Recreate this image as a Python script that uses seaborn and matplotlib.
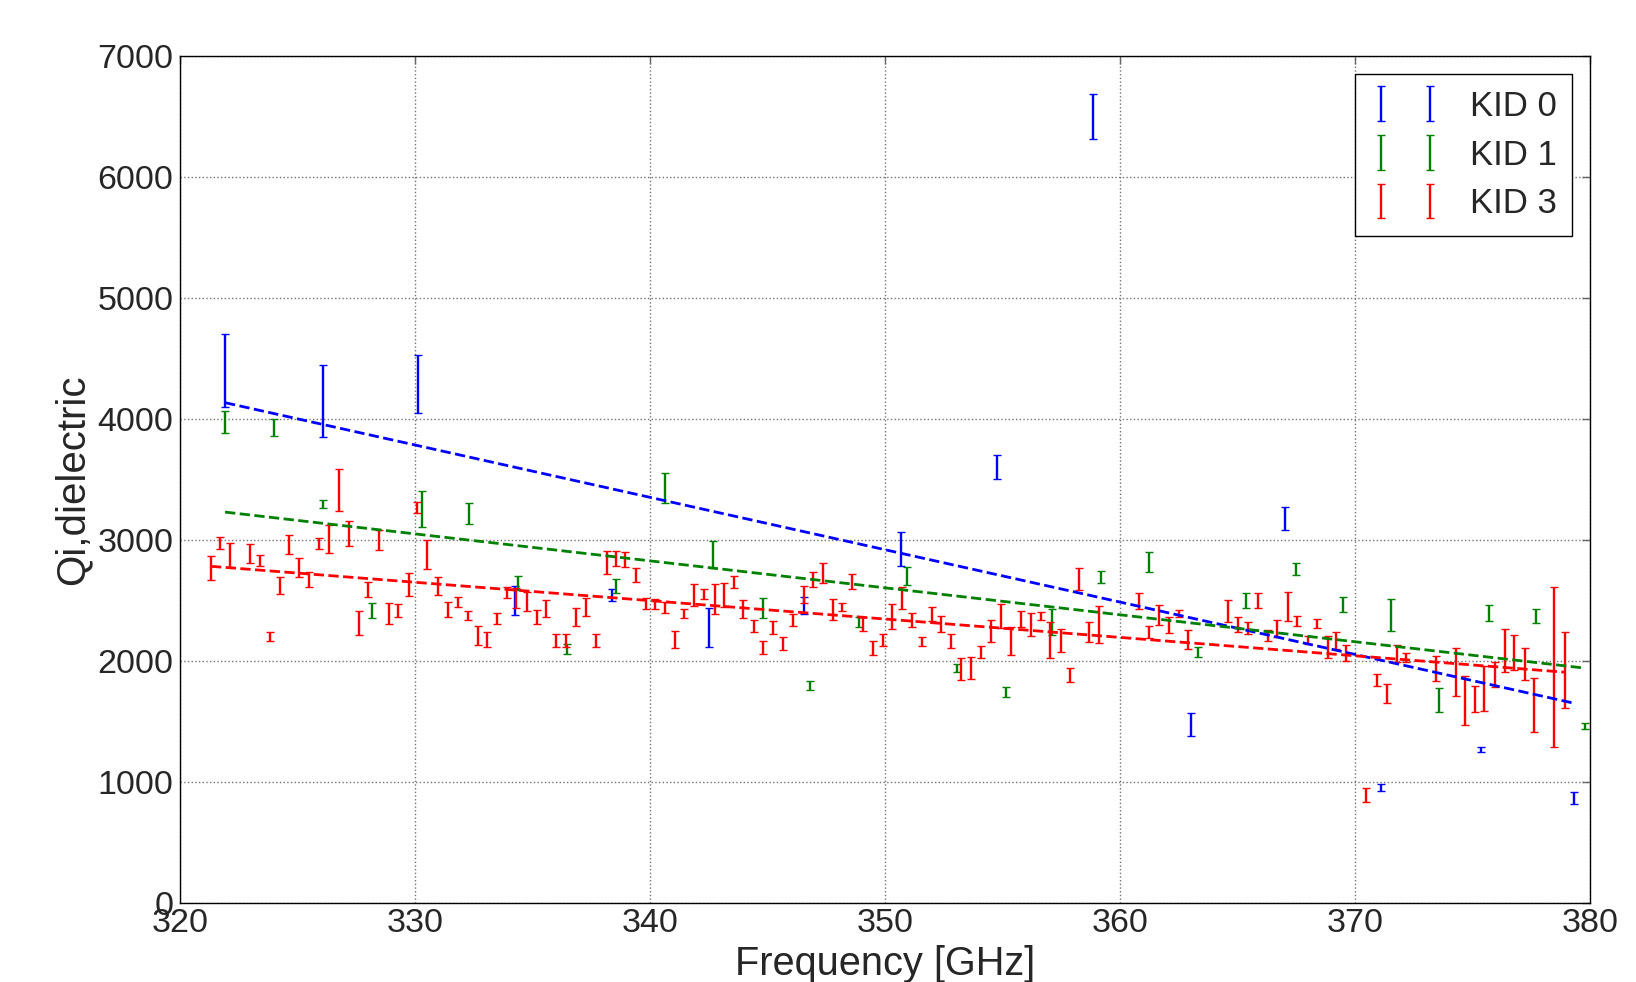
import numpy as np
import pandas as pd
import matplotlib
matplotlib.use('Agg')
import matplotlib.pyplot as plt
import seaborn as sns

sns.set_theme(style='white')
plt.rcParams['font.family'] = ['Liberation Sans', 'DejaVu Sans']

# KID 0
f0 = [321.9, 326.05, 330.1, 334.25, 338.37, 342.49, 346.53, 350.67, 354.75, 358.85,
      363.02, 367.02, 371.09, 375.36, 379.32]
q0 = [4400, 4150, 4290, 2500, 2545, 2275, 2460, 2927, 3604, 6500,
      1470, 3180, 951, 1267, 865]
e0 = [300, 300, 240, 120, 50, 160, 70, 140, 100, 185, 95, 95, 30, 22, 52]

# KID 1
f1 = [321.9, 324.0, 326.05, 328.17, 330.27, 332.3, 334.35, 336.44, 338.54, 340.63,
      342.68, 344.81, 346.78, 348.9, 350.92, 353.04, 355.13, 357.11, 359.19, 361.23,
      363.3, 365.35, 367.48, 369.5, 371.52, 373.58, 375.68, 377.7, 379.79]
q1 = [3975, 3930, 3295, 2417, 3255, 3216, 2644, 2100, 2615, 3431,
      2877, 2436, 1795, 2322, 2700, 1940, 1743, 2320, 2693, 2819,
      2075, 2498, 2757, 2462, 2377, 1675, 2397, 2370, 1460]
e1 = [90, 70, 35, 60, 150, 85, 60, 40, 58, 124, 113, 85, 35, 42, 72, 33, 42, 106, 48, 83,
      42, 65, 48, 62, 131, 97, 66, 60, 27]

# KID 3
f3 = [321.3, 321.68, 322.1, 322.96, 323.38, 323.8, 324.24, 324.63, 325.06, 325.47,
      325.91, 326.33, 326.76, 327.17, 327.6, 327.99, 328.45, 328.88, 329.27, 329.73, 330.08,
      330.5, 330.95, 331.38, 331.8, 332.23, 332.65, 333.04, 333.46, 333.89, 334.28,
      334.74, 335.16, 335.55, 335.97, 336.4, 336.82, 337.25, 337.67, 338.14, 338.53,
      338.92, 339.38, 339.8,
      340.2, 340.63, 341.05, 341.45, 341.87, 342.3, 342.75, 343.15, 343.58, 343.96,
      344.39, 344.81, 345.24, 345.66, 346.09, 346.52, 346.92, 347.34, 347.77, 348.17,
      348.6, 349.04, 349.47,
      349.88, 350.3, 350.73, 351.15, 351.55, 351.98, 352.36, 352.79, 353.21, 353.64,
      354.08, 354.5, 354.93, 355.34, 355.77, 356.19, 356.62, 357.02, 357.47, 357.87,
      358.26, 358.69, 359.11,
      360.81, 361.23, 361.66, 362.08, 362.51, 362.9, 364.58, 364.99, 365.43, 365.86,
      366.28, 366.69, 367.12, 367.54, 367.97, 368.39, 368.82, 369.2,
      369.6, 370.47, 370.92, 371.35, 371.78, 372.17, 373.45, 374.29, 374.68, 375.08,
      375.49, 375.93, 376.36, 376.77, 377.21, 377.62, 378.47, 378.91]
q3 = [2768, 2976, 2878, 2885, 2829, 2201, 2620, 2960, 2770, 2671,
      2969, 3008, 3410, 3053, 2312, 2589, 2998, 2392, 2414, 2633, 3267,
      2878, 2617, 2426, 2486, 2374, 2208, 2175, 2346, 2564, 2516,
      2490, 2361, 2430, 2167, 2167, 2360, 2443, 2167, 2812, 2846,
      2837, 2706, 2474,
      2469, 2440, 2178, 2388, 2542, 2550, 2508, 2543, 2651, 2427,
      2285, 2108, 2275, 2143, 2335, 2550, 2672, 2728, 2422, 2444,
      2655, 2306, 2105,
      2172, 2363, 2518, 2336, 2157, 2389, 2302, 2163, 1930, 1941,
      2072, 2244, 2367, 2164, 2347, 2300, 2368, 2171, 2165, 1879,
      2675, 2238, 2300,
      2491, 2237, 2378, 2293, 2392, 2174, 2412, 2300, 2270, 2498,
      2208, 2265, 2447, 2328, 2170, 2306, 2115, 2167,
      2065, 887, 1842, 1727, 2061, 2024, 1935, 1905, 1671, 1683,
      1773, 1889, 2085, 2068, 1971, 1631, 1948, 1921]
e3 = [100, 50, 100, 80, 46, 38, 70, 80, 76, 60,
      43, 115, 172, 102, 100, 65, 83, 88, 55, 95, 48,
      120, 73, 62, 44, 37, 79, 65, 45, 48, 83,
      76, 58, 72, 51, 51, 73, 73, 51, 95, 60,
      60, 58, 47,
      41, 48, 70, 37, 90, 41, 124, 97, 52, 76,
      51, 55, 54, 55, 48, 70, 65, 83, 86, 30,
      62, 58, 58,
      48, 103, 93, 60, 36, 58, 67, 55, 90, 92,
      52, 92, 100, 117, 66, 93, 32, 151, 95, 58,
      90, 85, 155,
      66, 52, 83, 66, 28, 80, 90, 65, 52, 65,
      46, 72, 119, 41, 35, 39, 90, 73,
      65, 58, 48, 80, 69, 37, 103, 197, 203, 110,
      186, 103, 175, 145, 131, 223, 664, 314]

# linear fits: value at 350 GHz and slope per GHz
fit_at_350 = [2918, 2603, 2345]
fit_slope = [-43.3, -22.3, -15.2]

labels = ['KID 0', 'KID 1', 'KID 3']
colors = ['#0000ff', '#008000', '#ff0000']
series = [(f0, q0, e0), (f1, q1, e1), (f3, q3, e3)]

fig = plt.figure(figsize=(16.36, 9.82), dpi=100)
ax = fig.add_axes([0.1103, 0.0809, 0.8617, 0.8618])

for (f, q, e), lab, col in zip(series, labels, colors):
    ax.errorbar(f, q, yerr=e, fmt='none', ecolor=col, elinewidth=1.7,
                capsize=2.6, capthick=1.0, label=lab)

for (f, q, e), a, b, col in zip(series, fit_at_350, fit_slope, colors):
    fx = np.array([min(f), max(f)])
    fit = pd.DataFrame({'f': fx, 'q': a + b * (fx - 350)})
    sns.lineplot(data=fit, x='f', y='q', ax=ax, color=col, linestyle='--',
                 linewidth=2.0, legend=False)

ax.set_xlim(320, 380)
ax.set_ylim(0, 7000)
ax.set_xticks(np.arange(320, 381, 10))
ax.set_yticks(np.arange(0, 7001, 1000))
ax.grid(True, linestyle=':', color='0.45', linewidth=1.0)
ax.tick_params(direction='in', length=6, width=1, labelsize=24.5, top=True, right=True,
               color='0.4')
ax.tick_params(axis='x', pad=4)
ax.tick_params(axis='y', pad=5)
for s in ax.spines.values():
    s.set_color('black')
    s.set_linewidth(1.0)

ax.set_xlabel('Frequency [GHz]', fontsize=28.6, labelpad=4)
ax.set_ylabel('Qi,dielectric', fontsize=29, labelpad=4)

leg = ax.legend(loc='upper right', numpoints=2, fontsize=25, fancybox=False,
                framealpha=1, edgecolor='black', borderaxespad=0.52,
                handlelength=2.0, handletextpad=0.85, labelspacing=0.45,
                borderpad=0.45)
leg.get_frame().set_linewidth(1.0)

fig.savefig('out.png', dpi=100)
